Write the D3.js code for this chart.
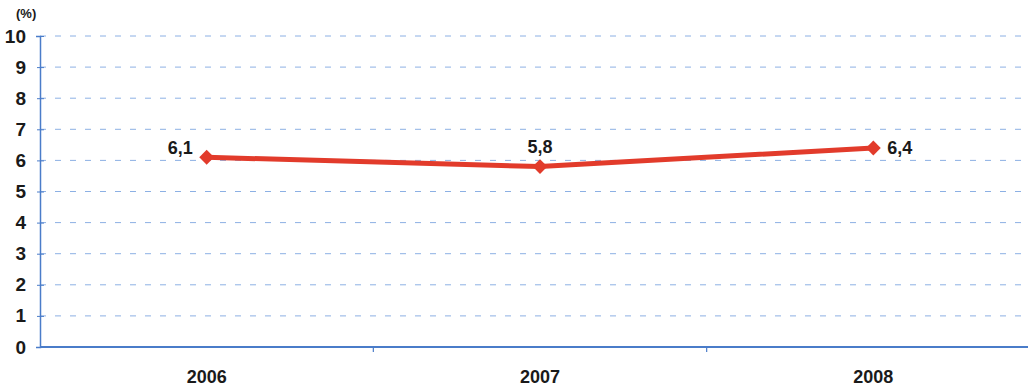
<!DOCTYPE html>
<html>
<head>
<meta charset="utf-8">
<script src="https://cdn.jsdelivr.net/npm/d3@7"></script>
<style>
  html, body { margin: 0; padding: 0; background: #fff; }
  svg { display: block; }
  text { font-family: "Liberation Sans", Arial, sans-serif; font-weight: bold; fill: #1a1a1a; }
</style>
</head>
<body>
<script>
// Annual rate (%) by year
const years = ["2006", "2007", "2008"];
const values = [6.1, 5.8, 6.4];
const valueLabels = ["6,1", "5,8", "6,4"];
const yTicks = [0, 1, 2, 3, 4, 5, 6, 7, 8, 9, 10];

const W = 1028, H = 386;
const plotLeft = 40, plotTop = 36, plotBottom = 347, plotRight = 1040;

const svg = d3.select("body").append("svg").attr("width", W).attr("height", H);

const x = d3.scaleBand().domain(years).range([plotLeft, plotRight]);
const y = d3.scaleLinear().domain([0, 10]).range([plotBottom, plotTop]);

const gridColor = "#5b8fd8";
const axisColor = "#4a7cc9";

// dashed horizontal gridlines
svg.append("g")
  .selectAll("line")
  .data(yTicks.filter(d => d > 0))
  .join("line")
  .attr("x1", plotLeft).attr("x2", W)
  .attr("y1", d => y(d)).attr("y2", d => y(d))
  .attr("stroke", gridColor)
  .attr("stroke-opacity", 0.7)
  .attr("stroke-width", 1)
  .attr("stroke-dasharray", "6,9");

// y axis
const yAxis = svg.append("g")
  .attr("transform", `translate(${plotLeft},0)`)
  .call(d3.axisLeft(y).tickValues(yTicks).tickSize(4).tickPadding(10).tickFormat(d3.format("d")));
yAxis.select(".domain").attr("stroke", axisColor).attr("stroke-width", 1.5);
yAxis.selectAll(".tick line").attr("stroke", axisColor).attr("x2", 4).attr("x1", -3);
yAxis.selectAll(".tick text")
  .attr("font-size", 19).attr("font-weight", "bold")
  .attr("font-family", "Liberation Sans, Arial, sans-serif")
  .attr("fill", "#1a1a1a");

// x axis with ticks between categories
const bounds = years.slice(1).map(d => x(d));
const xg = svg.append("g").attr("transform", `translate(0,${plotBottom})`);
xg.append("line")
  .attr("x1", plotLeft).attr("x2", W)
  .attr("stroke", axisColor).attr("stroke-width", 2);
xg.selectAll("line.tk")
  .data(bounds)
  .join("line")
  .attr("class", "tk")
  .attr("x1", d => d).attr("x2", d => d)
  .attr("y1", 0).attr("y2", 5)
  .attr("stroke", axisColor).attr("stroke-width", 1.2);
xg.selectAll("text")
  .data(years)
  .join("text")
  .attr("x", d => x(d) + x.bandwidth() / 2)
  .attr("y", 36)
  .attr("text-anchor", "middle")
  .attr("font-size", 18)
  .text(d => d);

// unit label
svg.append("text")
  .attr("x", 16).attr("y", 18)
  .attr("font-size", 13)
  .text("(%)");

// series line
const pts = years.map((d, i) => [x(d) + x.bandwidth() / 2, y(values[i])]);
svg.append("path")
  .datum(pts)
  .attr("d", d3.line())
  .attr("fill", "none")
  .attr("stroke", "#e23b2b")
  .attr("stroke-width", 5)
  .attr("stroke-linejoin", "round");

// diamond markers
svg.append("g")
  .selectAll("path")
  .data(pts)
  .join("path")
  .attr("transform", d => `translate(${d[0]},${d[1]}) rotate(45)`)
  .attr("d", d3.symbol().type(d3.symbolSquare).size(110))
  .attr("fill", "#e23b2b");

// value labels
const labelPos = [
  { dx: -14, dy: -3, anchor: "end" },
  { dx: 0, dy: -14, anchor: "middle" },
  { dx: 14, dy: 6, anchor: "start" }
];
svg.append("g")
  .selectAll("text")
  .data(pts)
  .join("text")
  .attr("x", (d, i) => d[0] + labelPos[i].dx)
  .attr("y", (d, i) => d[1] + labelPos[i].dy)
  .attr("text-anchor", (d, i) => labelPos[i].anchor)
  .attr("font-size", 18)
  .text((d, i) => valueLabels[i]);
</script>
</body>
</html>
